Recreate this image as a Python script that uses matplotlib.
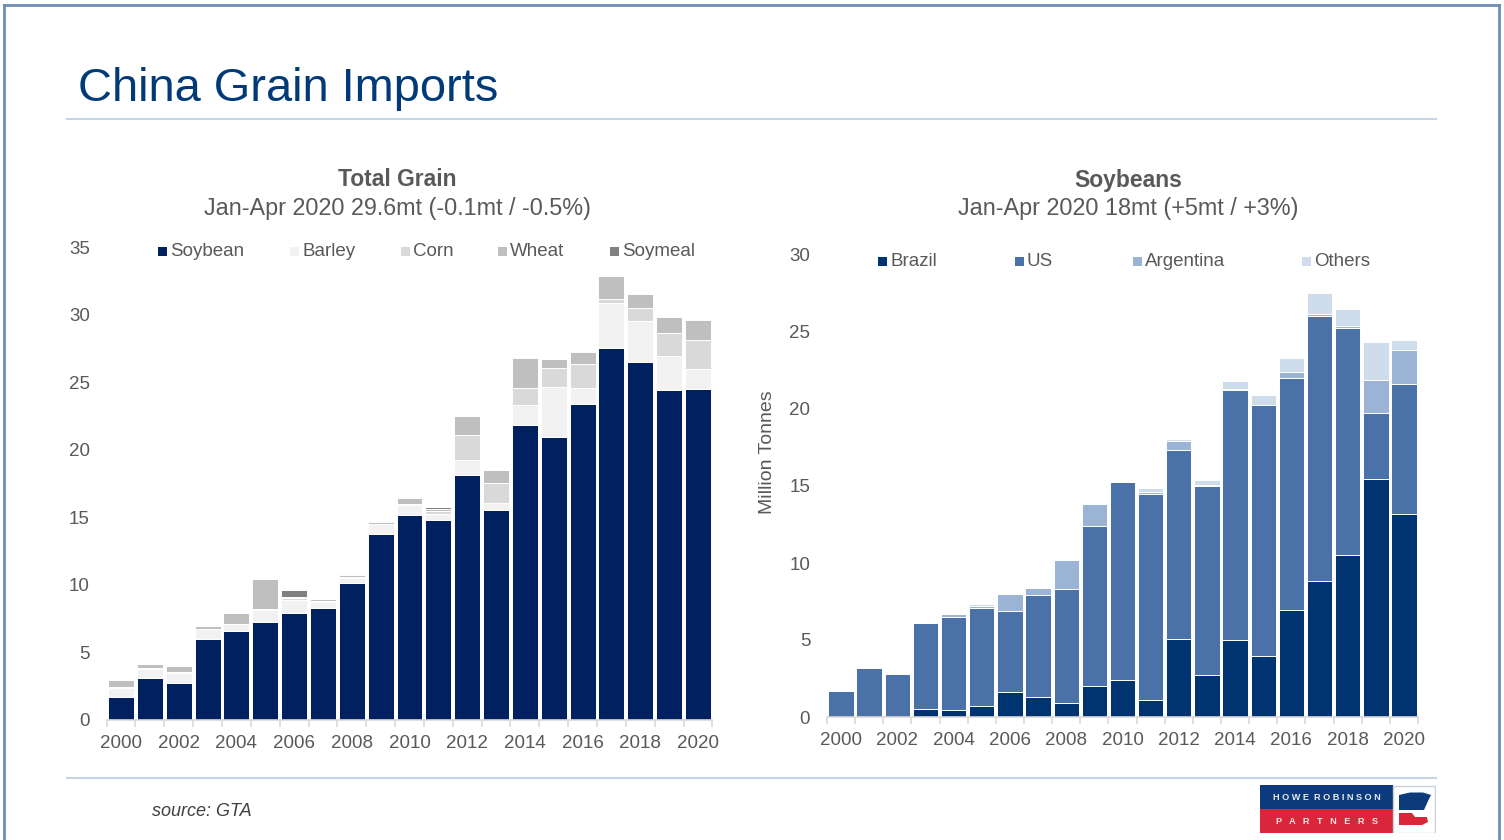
import numpy as np
import matplotlib.pyplot as plt
from matplotlib.patches import Rectangle, Polygon
from matplotlib.lines import Line2D

plt.rcParams['font.family'] = ['Liberation Sans', 'DejaVu Sans']

W, H = 1504, 840

# figure helpers: pixel position -> figure fraction
def fx(x):
    return x / W

def fy(y):
    return 1 - y / H


years = np.arange(2000, 2021)

# Total grain imports Jan-Apr (million tonnes), stacked by grain
soybean = [1.70, 3.10, 2.74, 6.02, 6.59, 7.26, 7.93, 8.30, 10.12, 13.80, 15.19,
           14.79, 18.16, 15.52, 21.85, 20.97, 23.36, 27.55, 26.48, 24.39, 24.49]
barley = [0.67, 0.70, 0.74, 0.70, 0.50, 0.89, 0.93, 0.42, 0.42, 0.67, 0.71,
          0.49, 1.11, 0.54, 1.45, 3.67, 1.20, 3.27, 3.08, 2.56, 1.48]
corn = [0.05, 0.05, 0.05, 0.05, 0.05, 0.05, 0.20, 0.05, 0.05, 0.05, 0.05,
        0.20, 1.79, 1.51, 1.26, 1.40, 1.75, 0.30, 0.91, 1.68, 2.12]
wheat = [0.52, 0.27, 0.45, 0.20, 0.81, 2.27, 0.05, 0.15, 0.15, 0.12, 0.50,
         0.10, 1.41, 0.91, 2.24, 0.64, 0.94, 1.72, 1.02, 1.16, 1.53]
soymeal = [0.00, 0.00, 0.00, 0.02, 0.00, 0.00, 0.54, 0.02, 0.03, 0.10, 0.02,
           0.20, 0.05, 0.05, 0.05, 0.02, 0.05, 0.05, 0.02, 0.05, 0.05]

# Soybean imports Jan-Apr by origin (million tonnes)
brazil = [0.00, 0.00, 0.00, 0.50, 0.48, 0.70, 1.61, 1.28, 0.89, 2.02, 2.39,
          1.13, 5.09, 2.70, 4.98, 3.96, 6.93, 8.83, 10.50, 15.44, 13.20]
us = [1.67, 3.15, 2.78, 5.59, 6.00, 6.39, 5.26, 6.63, 7.41, 10.41, 12.85,
      13.35, 12.25, 12.30, 16.24, 16.30, 15.10, 17.24, 14.74, 4.30, 8.42]
argentina = [0.00, 0.00, 0.00, 0.02, 0.19, 0.15, 1.13, 0.48, 1.90, 1.37, 0.00,
             0.13, 0.61, 0.05, 0.05, 0.00, 0.37, 0.09, 0.13, 2.14, 2.18]
others = [0.11, 0.05, 0.03, 0.03, 0.05, 0.11, 0.05, 0.05, 0.05, 0.09, 0.05,
          0.26, 0.13, 0.35, 0.56, 0.64, 0.94, 1.39, 1.13, 2.47, 0.70]

grain_names = ['Soybean', 'Barley', 'Corn', 'Wheat', 'Soymeal']
grain_series = [soybean, barley, corn, wheat, soymeal]
grain_colors = ['#002060', '#f2f2f2', '#d9d9d9', '#bfbfbf', '#808080']

origin_names = ['Brazil', 'US', 'Argentina', 'Others']
origin_series = [brazil, us, argentina, others]
origin_colors = ['#003471', '#4a72a8', '#9bb3d5', '#cfdcec']

txt = '#595959'
axis_grey = '#d9d9d9'


fig = plt.figure(figsize=(15.04, 8.4), dpi=100, facecolor='white')

# slide frame
for xs, ys in [([4, 1499], [5, 5]), ([4, 4], [5, 840]), ([1499, 1499], [5, 840])]:
    fig.add_artist(Line2D([fx(v) for v in xs], [fy(v) for v in ys],
                          color='#6f8db5', linewidth=2))

# slide title and rules
fig.text(fx(78), fy(89), 'China Grain Imports', fontsize=33.8,
         color='#003a78', ha='left', va='center')
for y in (119, 778):
    fig.add_artist(Line2D([fx(67), fx(1436)], [fy(y), fy(y)],
                          color='#c5d5e8', linewidth=1.5))

fig.text(fx(152), fy(811), 'source: GTA', fontsize=13, style='italic',
         color='#404040', ha='left', va='center')


def style_axes(ax, ymax, ystep):
    ax.set_xlim(-0.5, len(years) - 0.5)
    ax.set_ylim(0, ymax)
    for side in ['top', 'right', 'left']:
        ax.spines[side].set_visible(False)
    ax.spines['bottom'].set_color(axis_grey)
    ax.spines['bottom'].set_linewidth(1.2)
    ax.set_yticks(np.arange(0, ymax + 1, ystep))
    ax.set_xticks(np.arange(0, len(years), 2))
    ax.set_xticklabels([str(y) for y in years[::2]])
    ax.set_xticks(np.arange(-0.5, len(years)), minor=True)
    ax.tick_params(axis='x', which='major', length=0, pad=11,
                   labelsize=13.5, labelcolor=txt)
    ax.tick_params(axis='x', which='minor', length=5, width=1.2,
                   color=axis_grey, direction='out')
    ax.tick_params(axis='y', length=0, pad=12, labelsize=13.5, labelcolor=txt)


def stacked(ax, series, colors):
    x = np.arange(len(years))
    bottom = np.zeros(len(years))
    for vals, col in zip(series, colors):
        vals = np.array(vals)
        ax.bar(x, vals, bottom=bottom, width=0.9, color=col,
               edgecolor='white', linewidth=0.7)
        bottom += vals


def legend_row(names, colors, xs, y):
    for name, col, x in zip(names, colors, xs):
        fig.add_artist(Rectangle((fx(x), fy(y + 4.5)), 9 / W, 9 / H,
                                 facecolor=col, edgecolor='none'))
        fig.text(fx(x + 12), fy(y), name, fontsize=13.5, color=txt,
                 ha='left', va='center')


# left panel: total grain
axL = fig.add_axes([fx(106.6), fy(720), (712.4 - 106.6) / W, (720 - 247) / H])
stacked(axL, grain_series, grain_colors)
style_axes(axL, 35, 5)
fig.text(fx(397), fy(180), 'Total Grain', fontsize=16.5, fontweight='bold',
         color=txt, ha='center', va='center')
fig.text(fx(397), fy(208), 'Jan-Apr 2020 29.6mt (-0.1mt / -0.5%)',
         fontsize=16.8, color=txt, ha='center', va='center')
legend_row(grain_names, grain_colors, [158, 290, 401, 498, 610], 251.5)

# right panel: soybeans by origin
axR = fig.add_axes([fx(826.9), fy(717), (1418.1 - 826.9) / W, (717 - 255) / H])
stacked(axR, origin_series, origin_colors)
style_axes(axR, 30, 5)
fig.text(fx(1128), fy(181), 'Soybeans', fontsize=16.5, fontweight='bold',
         color=txt, ha='center', va='center')
fig.text(fx(1128), fy(208), 'Jan-Apr 2020 18mt (+5mt / +3%)',
         fontsize=16.8, color=txt, ha='center', va='center')
fig.text(fx(767), fy(452), 'Million Tonnes', fontsize=14, color=txt,
         rotation=90, ha='center', va='center')
legend_row(origin_names, origin_colors, [878, 1015, 1133, 1302], 261)

# company logo, drawn in its own pixel-scaled axes
logo = fig.add_axes([fx(1260), fy(833), 176 / W, 48 / H])
logo.set_xlim(0, 176)
logo.set_ylim(48, 0)
logo.axis('off')
logo.add_patch(Rectangle((0, 0), 133, 24, facecolor='#0d3a7a'))
logo.add_patch(Rectangle((0, 24), 133, 24, facecolor='#d9263a'))
logo.add_patch(Rectangle((133, 0.5), 42, 47, facecolor='white',
                         edgecolor='#c8d0da', linewidth=1))
logo.add_patch(Polygon([(139, 10), (150, 7.5), (163, 7.5), (171, 10), (168, 16),
                        (164, 25), (139, 25)], closed=True,
                       facecolor='#0d3a7a', edgecolor='none'))
logo.add_patch(Polygon([(139, 28), (152, 28), (155, 32), (167, 32),
                        (168, 37), (162, 40), (139, 40)], closed=True,
                       facecolor='#d9263a', edgecolor='none'))
logo.text(66.5, 12, 'H O W E  R O B I N S O N', fontsize=6.6,
          fontweight='bold', color='#e6ebf2', ha='center', va='center')
logo.text(66.5, 36, 'P   A   R   T   N   E   R   S', fontsize=6.6,
          fontweight='bold', color='#f5e6e8', ha='center', va='center')

plt.savefig('out.png', dpi=100, facecolor='white')
